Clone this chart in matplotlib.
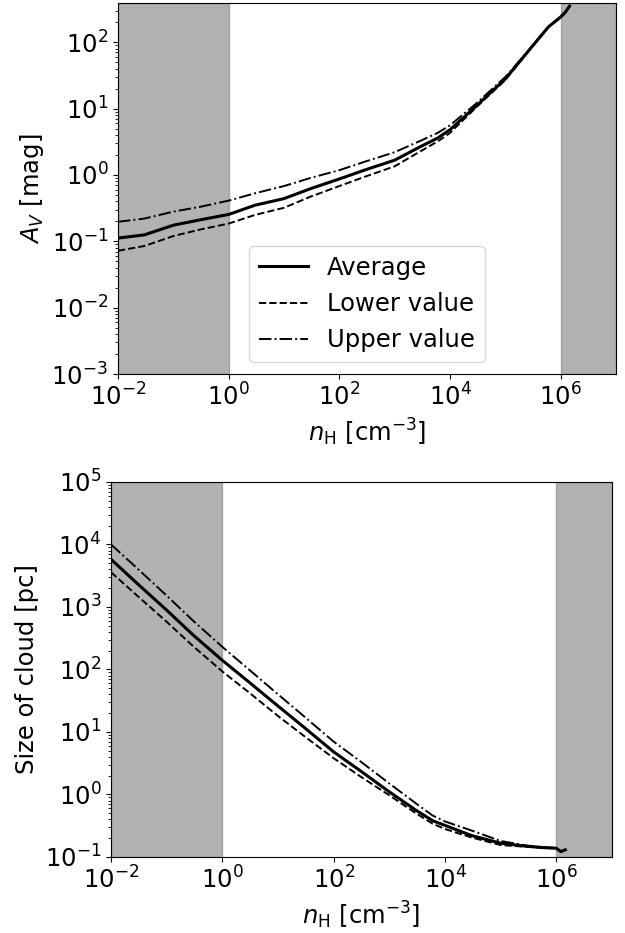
import numpy as np
import matplotlib
matplotlib.use("Agg")
import matplotlib.pyplot as plt

# hydrogen number density grid [cm^-3]
n_h = [1e-2, 3e-2, 1e-1, 3e-1, 1e0, 3e0, 1e1, 3e1, 1e2, 3e2, 1e3, 3e3, 6e3,
       1e4, 3e4, 1e5, 3e5, 6e5, 1e6, 1.2e6, 1.45e6]

# visual extinction A_V [mag]
av_avg = [0.112, 0.125, 0.175, 0.21, 0.254, 0.35, 0.44, 0.62, 0.87, 1.2, 1.67,
          2.7, 3.6, 4.8, 11, 28, 85, 170, 240, 280, 350]
av_low = [0.072, 0.085, 0.12, 0.15, 0.185, 0.25, 0.32, 0.47, 0.68, 0.95, 1.35,
          2.3, 3.2, 4.3, 10.5, 27, 84, 168, 238, 278, 345]
av_up = [0.197, 0.22, 0.28, 0.33, 0.41, 0.53, 0.68, 0.9, 1.18, 1.6, 2.2,
         3.3, 4.3, 5.6, 12, 30, 85, 170, 240, 280, 350]

# cloud size [pc]
size_avg = [5800, 2350, 890, 355, 140, 63, 26, 11.7, 4.8, 2.4, 1.1, 0.56, 0.38,
            0.32, 0.22, 0.166, 0.148, 0.141, 0.138, 0.122, 0.13]
size_low = [3600, 1500, 580, 235, 93, 43, 18, 8.5, 3.8, 1.95, 0.97, 0.5, 0.34,
            0.28, 0.205, 0.155, 0.145, 0.14, 0.137, 0.121, 0.129]
size_up = [10000, 4100, 1520, 600, 230, 100, 40, 17.5, 7.0, 3.4, 1.5, 0.72, 0.46,
           0.37, 0.265, 0.18, 0.152, 0.143, 0.139, 0.123, 0.13]

# density range outside the model validity
shade_low = (1e-2, 1e0)
shade_high = (1e6, 1e7)

plt.rcParams["font.size"] = 17.5

fig = plt.figure(figsize=(6.25, 9.33), dpi=100)
ax1 = fig.add_axes([0.1888, 0.5991, 0.7968, 0.3977])
ax2 = fig.add_axes([0.1776, 0.0815, 0.8016, 0.4019])

for ax in (ax1, ax2):
    ax.axvspan(*shade_low, color="gray", alpha=0.6, zorder=0)
    ax.axvspan(*shade_high, color="gray", alpha=0.6, zorder=0)
    ax.set_xscale("log")
    ax.set_yscale("log")
    ax.set_xlim(1e-2, 1e7)
    ax.set_xlabel(r"$n_{\rm H}$ [cm$^{-3}$]")

# top: extinction
ax1.plot(n_h, av_avg, "k-", lw=2.2, label="Average")
ax1.plot(n_h, av_low, "k--", lw=1.4, label="Lower value")
ax1.plot(n_h, av_up, "k-.", lw=1.4, label="Upper value")
ax1.set_ylim(1e-3, 390)
ax1.set_ylabel(r"$A_V$ [mag]")
ax1.legend(loc="lower center", fontsize=17.5)

# bottom: cloud size
ax2.plot(n_h, size_avg, "k-", lw=2.2)
ax2.plot(n_h, size_low, "k--", lw=1.4)
ax2.plot(n_h, size_up, "k-.", lw=1.4)
ax2.set_ylim(1e-1, 1e5)
ax2.set_ylabel("Size of cloud [pc]")

fig.savefig("out.png", dpi=100)
